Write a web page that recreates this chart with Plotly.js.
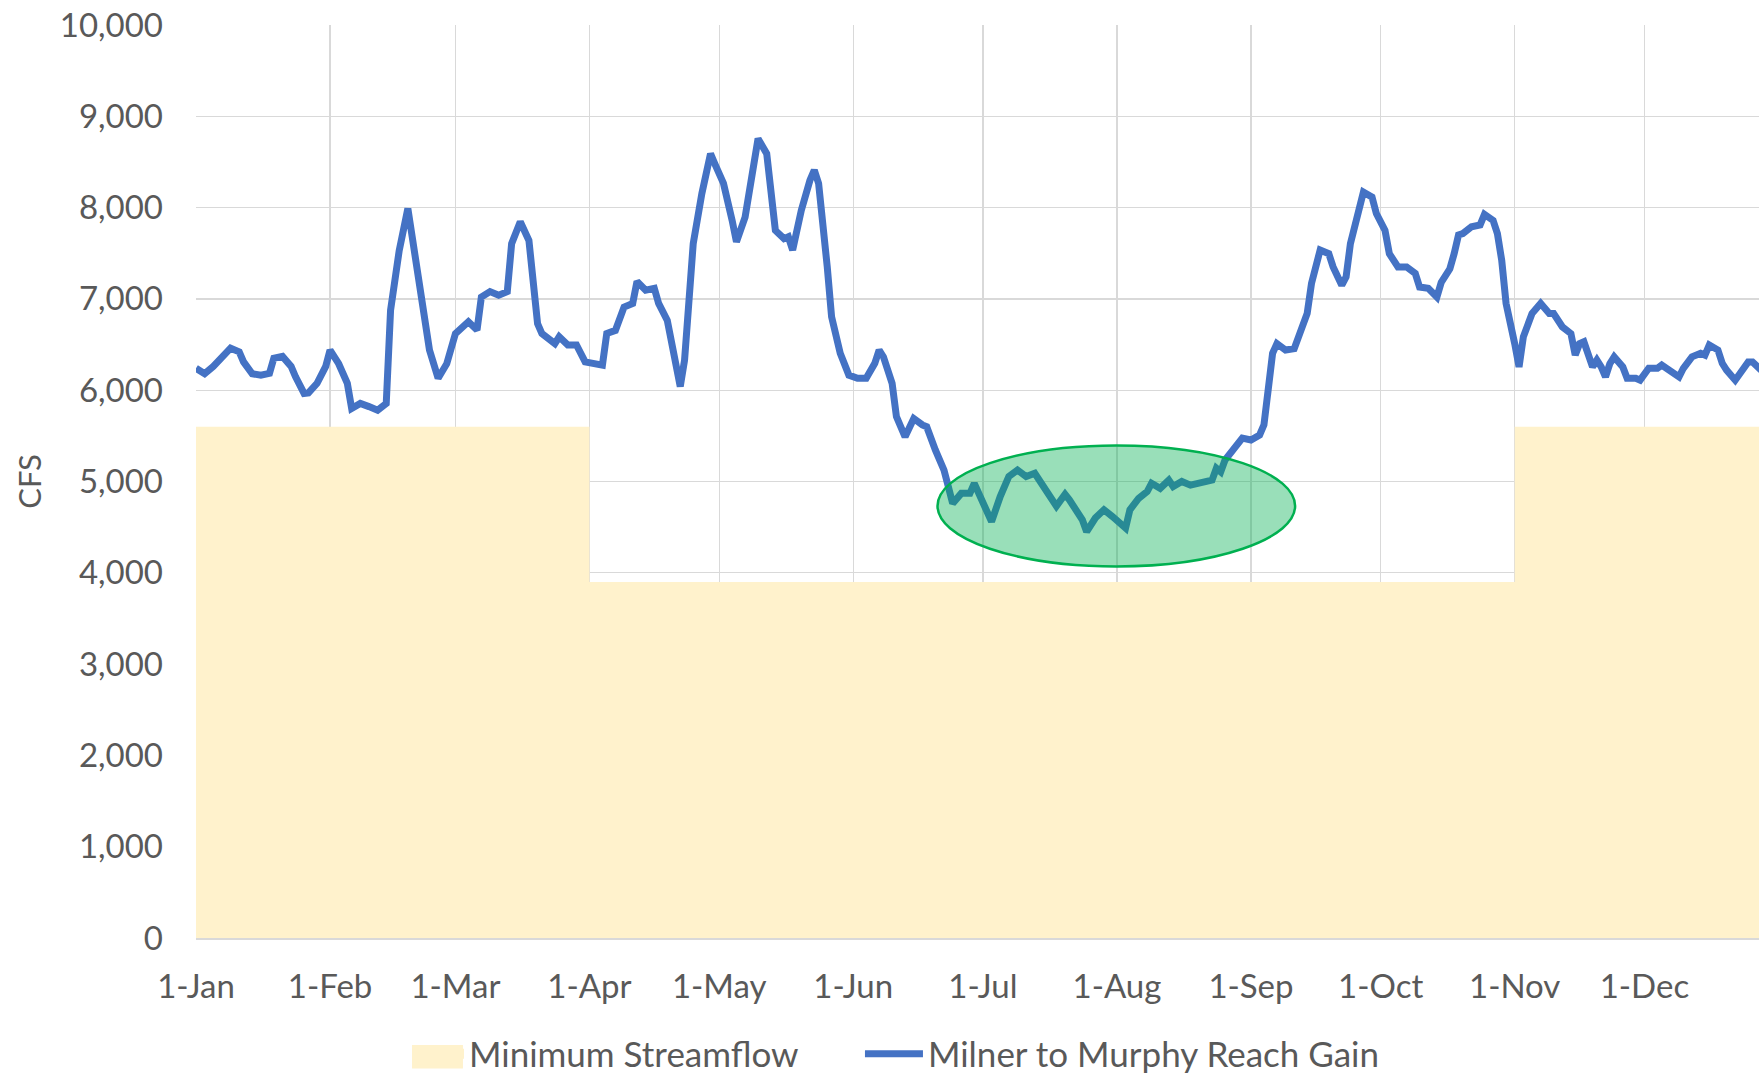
<!DOCTYPE html>
<html>
<head>
<meta charset="utf-8">
<script src="https://cdn.plot.ly/plotly-3.0.1.min.js"></script>
<style>
html,body{margin:0;padding:0;background:#fff;}
#chart{width:1759px;height:1074px;}
</style>
</head>
<body>
<div id="chart"></div>
<script>
// Minimum streamflow (step series)
const minDates = ['2020-01-01','2020-04-01','2020-11-01','2020-12-31'];
const minCfs = [5600, 3900, 5600, 5600];

// Milner to Murphy Reach Gain
const gainDates = [
'2020-01-01','2020-01-03','2020-01-05','2020-01-07','2020-01-09','2020-01-11','2020-01-12','2020-01-14','2020-01-16','2020-01-18',
'2020-01-19','2020-01-21','2020-01-23','2020-01-24','2020-01-26','2020-01-27','2020-01-29','2020-01-31','2020-02-01','2020-02-03',
'2020-02-05','2020-02-06','2020-02-08','2020-02-10','2020-02-12','2020-02-14','2020-02-15','2020-02-17','2020-02-19','2020-02-20',
'2020-02-22','2020-02-24','2020-02-26','2020-02-28','2020-03-01','2020-03-04','2020-03-06','2020-03-07','2020-03-09','2020-03-11',
'2020-03-13','2020-03-14','2020-03-16','2020-03-18','2020-03-20','2020-03-21','2020-03-24','2020-03-25','2020-03-27','2020-03-29',
'2020-03-31','2020-04-02','2020-04-04','2020-04-05','2020-04-07','2020-04-09','2020-04-11','2020-04-12','2020-04-14','2020-04-16',
'2020-04-17','2020-04-19','2020-04-20','2020-04-22','2020-04-23','2020-04-24','2020-04-25','2020-04-27','2020-04-29','2020-04-30',
'2020-05-02','2020-05-04','2020-05-05','2020-05-07','2020-05-09','2020-05-10','2020-05-12','2020-05-13','2020-05-14','2020-05-16',
'2020-05-17','2020-05-18','2020-05-20','2020-05-22','2020-05-23','2020-05-24','2020-05-25','2020-05-26','2020-05-27','2020-05-29',
'2020-05-31','2020-06-02','2020-06-04','2020-06-06','2020-06-07','2020-06-08','2020-06-10','2020-06-11','2020-06-13','2020-06-15',
'2020-06-17','2020-06-18','2020-06-20','2020-06-22','2020-06-23','2020-06-24','2020-06-26','2020-06-28','2020-06-29','2020-07-01',
'2020-07-03','2020-07-05','2020-07-07','2020-07-09','2020-07-11','2020-07-13','2020-07-15','2020-07-17','2020-07-18','2020-07-20',
'2020-07-21','2020-07-24','2020-07-25','2020-07-27','2020-07-29','2020-07-31','2020-08-03','2020-08-04','2020-08-06','2020-08-08',
'2020-08-09','2020-08-11','2020-08-13','2020-08-14','2020-08-16','2020-08-18','2020-08-20','2020-08-23','2020-08-24','2020-08-25',
'2020-08-26','2020-08-28','2020-08-30','2020-09-01','2020-09-03','2020-09-04','2020-09-05','2020-09-06','2020-09-07','2020-09-09',
'2020-09-11','2020-09-12','2020-09-14','2020-09-15','2020-09-17','2020-09-19','2020-09-20','2020-09-22','2020-09-23','2020-09-24',
'2020-09-26','2020-09-27','2020-09-29','2020-09-30','2020-10-02','2020-10-03','2020-10-05','2020-10-07','2020-10-09','2020-10-10',
'2020-10-12','2020-10-14','2020-10-15','2020-10-17','2020-10-18','2020-10-19','2020-10-20','2020-10-22','2020-10-24','2020-10-25',
'2020-10-27','2020-10-28','2020-10-29','2020-10-30','2020-11-01','2020-11-02','2020-11-03','2020-11-05','2020-11-07','2020-11-09',
'2020-11-10','2020-11-12','2020-11-14','2020-11-15','2020-11-16','2020-11-17','2020-11-19','2020-11-20','2020-11-21','2020-11-22',
'2020-11-23','2020-11-24','2020-11-26','2020-11-27','2020-11-29','2020-11-30','2020-12-02','2020-12-04','2020-12-05','2020-12-07',
'2020-12-09','2020-12-10','2020-12-12','2020-12-14','2020-12-15','2020-12-16','2020-12-18','2020-12-19','2020-12-20','2020-12-22',
'2020-12-23','2020-12-25','2020-12-26','2020-12-28'
];
const gainCfs = [
6240,6180,6260,6370,6460,6420,6310,6180,6165,6185,
6350,6370,6260,6150,5965,5970,6075,6260,6440,6290,
6075,5800,5855,5820,5780,5855,6875,7530,7990,7680,
7020,6440,6130,6290,6620,6750,6660,7020,7080,7040,
7080,7605,7845,7640,6730,6620,6510,6585,6495,6495,
6310,6285,6275,6620,6655,6910,6950,7190,7095,7115,
6950,6765,6510,6040,6330,6875,7605,8155,8590,8480,
8265,7860,7625,7895,8410,8755,8590,8225,7750,7660,
7680,7535,7970,8300,8410,8265,7860,7350,6805,6405,
6165,6130,6130,6295,6440,6365,6075,5710,5490,5690,
5620,5600,5345,5125,4945,4760,4870,4870,4980,4760,
4560,4835,5055,5125,5055,5090,4945,4830,4730,4860,
4800,4580,4450,4600,4690,4615,4490,4690,4815,4890,
4980,4925,5015,4945,5000,4960,4980,5015,5145,5105,
5235,5345,5475,5455,5510,5620,6075,6405,6510,6440,
6455,6585,6840,7170,7535,7495,7350,7150,7240,7605,
7970,8170,8115,7935,7750,7495,7350,7350,7280,7130,
7115,7020,7180,7330,7497,7700,7716,7790,7810,7925,
7860,7715,7420,6950,6510,6255,6585,6840,6950,6840,
6840,6695,6620,6385,6510,6530,6255,6330,6255,6145,
6290,6365,6255,6130,6130,6110,6240,6240,6275,6220,
6145,6240,6365,6405,6385,6495,6440,6295,6220,6110,
6185,6310,6310,6220
];

// Highlight ellipse (data coordinates)
const ellipseX = ['2020-06-20 12:00', '2020-09-11 05:00'];
const ellipseY = [4070, 5395];

const seriesNames = ['Minimum Streamflow', 'Milner to Murphy Reach Gain'];
const textColor = '#595959';
const gridColor = '#D9D9D9';
const yellow = '#FFF2CC';
const blue = '#4472C4';
const font = 'Lato, "Open Sans", sans-serif';

const traces = [
  {
    x: minDates, y: minCfs, type: 'scatter', mode: 'lines',
    name: seriesNames[0], legendgroup: 'min', showlegend: false,
    line: {shape: 'hv', width: 0, color: yellow},
    fill: 'tozeroy', fillcolor: yellow,
    hoverinfo: 'skip'
  },
  {
    // legend entry for the area series
    x: [minDates[0]], y: [null], type: 'scatter', mode: 'lines',
    name: seriesNames[0], legendgroup: 'min', showlegend: true, legend: 'legend',
    line: {width: 24, color: yellow},
    hoverinfo: 'skip'
  },
  {
    x: gainDates, y: gainCfs, type: 'scatter', mode: 'lines',
    name: seriesNames[1], legend: 'legend2',
    line: {color: blue, width: 7}
  }
];

const legendFont = {family: font, size: 35, color: textColor};

const layout = {
  width: 1759, height: 1074,
  paper_bgcolor: '#ffffff', plot_bgcolor: '#ffffff',
  margin: {l: 196, r: 0, t: 24.5, b: 135.5, pad: 0, autoexpand: false},
  font: {family: font, size: 33, color: textColor},
  showlegend: true,
  legend: {
    orientation: 'h', x: 0.135, xanchor: 'left', y: -0.127, yanchor: 'middle',
    font: legendFont, itemwidth: 52, bgcolor: 'rgba(0,0,0,0)'
  },
  legend2: {
    orientation: 'h', x: 0.4248, xanchor: 'left', y: -0.127, yanchor: 'middle',
    font: legendFont, itemwidth: 58, bgcolor: 'rgba(0,0,0,0)'
  },
  xaxis: {
    type: 'date',
    range: ['2020-01-01', '2020-12-27 12:00'],
    tickmode: 'linear', tick0: '2020-01-01', dtick: 'M1',
    tickformat: '%-d-%b',
    showgrid: true, gridcolor: gridColor, gridwidth: 1.3,
    showline: true, linecolor: gridColor, linewidth: 1.5,
    zeroline: false, ticks: '',
    ticklabelstandoff: 19,
    tickfont: {family: font, size: 33, color: textColor},
    automargin: false,
    fixedrange: true
  },
  yaxis: {
    range: [0, 10000],
    tickmode: 'linear', tick0: 0, dtick: 1000,
    tickformat: ',d',
    showgrid: true, gridcolor: gridColor, gridwidth: 1.3,
    zeroline: false, showline: false, ticks: '',
    ticklabelstandoff: 32,
    tickfont: {family: font, size: 33, color: textColor},
    title: {text: 'CFS', font: {family: font, size: 31, color: textColor}, standoff: 8},
    automargin: false,
    fixedrange: true
  },
  shapes: [
    {
      type: 'circle', xref: 'x', yref: 'y',
      x0: ellipseX[0], x1: ellipseX[1], y0: ellipseY[0], y1: ellipseY[1],
      fillcolor: 'rgba(0,176,80,0.4)',
      line: {color: '#00B050', width: 2.5},
      layer: 'above'
    },
    {
      // enlarged block swatch for the area series legend entry
      type: 'rect', xref: 'paper', yref: 'paper',
      x0: 0.1382, x1: 0.1708, y0: -0.1429, y1: -0.1171,
      fillcolor: yellow, line: {width: 0}, layer: 'above'
    }
  ]
};

Plotly.newPlot('chart', traces, layout, {displayModeBar: false, staticPlot: true});
</script>
</body>
</html>
